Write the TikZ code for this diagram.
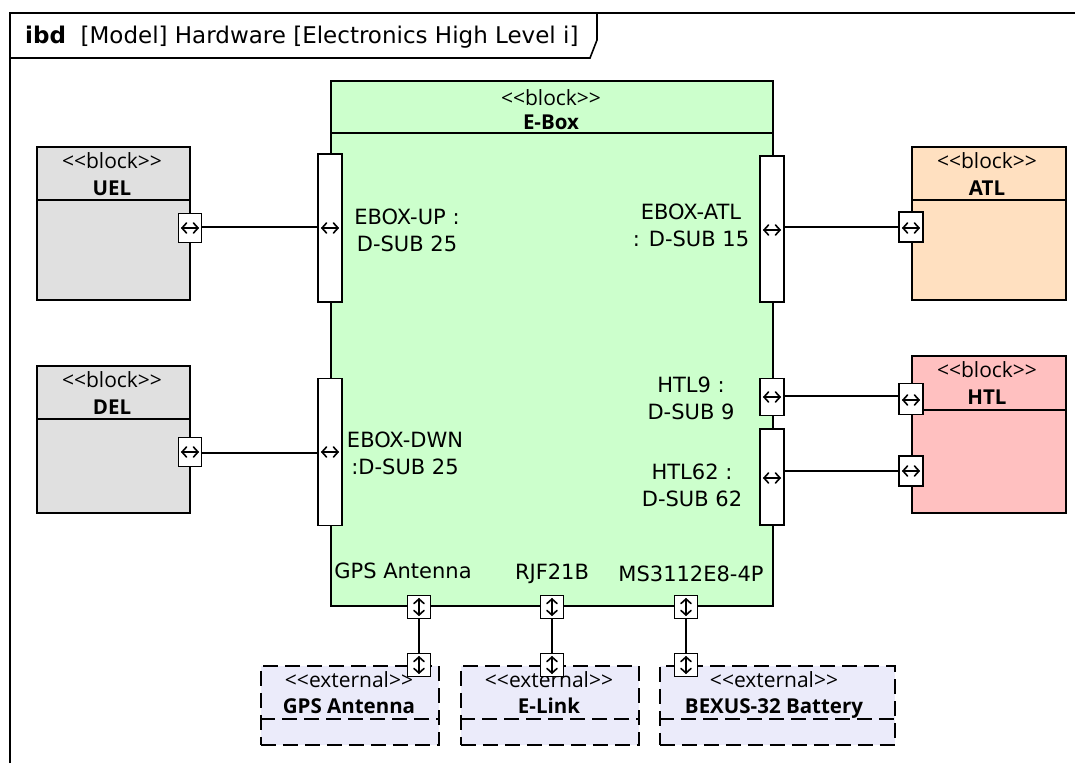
\documentclass[tikz,border=0pt]{standalone}
\usepackage{fontspec}
\setmainfont{DejaVu Sans}
\newfontfamily\osans{Open Sans}
\definecolor{eboxgreen}{HTML}{CCFFCC}
\definecolor{elgray}{HTML}{E0E0E0}
\definecolor{atlpeach}{HTML}{FFE0C0}
\definecolor{htlpink}{HTML}{FFC0C0}
\definecolor{extlav}{HTML}{EBEBFA}
\tikzset{
  blk/.style={draw, line width=1.7pt, anchor=north west, inner sep=0pt},
  sepline/.style={line width=1.7pt},
  extdash/.style={line width=1.7pt, dash pattern=on 15pt off 7pt},
  extblk/.style={draw, extdash, anchor=north west, inner sep=0pt, fill=extlav},
  portbox/.style={draw, line width=1.5pt, fill=white, inner sep=0pt},
  parrow/.style={line width=1.6pt, line cap=round, line join=miter},
  wire/.style={line width=1.6pt},
  stereo/.style={font=\osans\fontsize{21}{24}\selectfont, inner sep=0pt, anchor=base},
  bname/.style={font=\osans\bfseries\fontsize{20.5}{24}\selectfont, inner sep=0pt, anchor=base},
  plabel/.style={font=\fontsize{21}{27}\selectfont, align=center, inner sep=0pt},
}
\begin{document}
\begin{tikzpicture}[x=1pt,y=-1pt]
\useasboundingbox (0,0) rectangle (1075,763);
% frame
\draw[line width=1.6pt] (10,763) -- (10,13) -- (1075,13);
\draw[line width=1.6pt] (597,13) -- (597,40) -- (590,58) -- (10,58);
\node[anchor=west, inner sep=0pt, font=\fontsize{23}{26}\selectfont] (title) at (25,37) {\textbf{ibd}\ \ [Model] Hardware [Electronics High Level i]};

% E-Box
\node[blk, fill=eboxgreen, minimum width=442, minimum height=525] (ebox) at (330,80) {};
\draw[sepline] (330,133) -- (772,133);
\node[stereo] (eboxst) at (551,105) {<{}<block>{}>};
\node[bname] (eboxnm) at (551,129) {E-Box};

% UEL
\node[blk, fill=elgray, minimum width=153, minimum height=153] (uel) at (36,146) {};
\draw[sepline] (36,200) -- (189,200);
\node[stereo] (uelst) at (112,168) {<{}<block>{}>};
\node[bname] (uelnm) at (112,195) {UEL};

% DEL
\node[blk, fill=elgray, minimum width=153, minimum height=147] (del) at (36,365) {};
\draw[sepline] (36,419) -- (189,419);
\node[stereo] (delst) at (112,387) {<{}<block>{}>};
\node[bname] (delnm) at (112,414) {DEL};

% ATL
\node[blk, fill=atlpeach, minimum width=154, minimum height=153] (atl) at (911,146) {};
\draw[sepline] (911,200) -- (1065,200);
\node[stereo] (atlst) at (987,168) {<{}<block>{}>};
\node[bname] (atlnm) at (987,195) {ATL};

% HTL
\node[blk, fill=htlpink, minimum width=154, minimum height=157] (htl) at (911,355) {};
\draw[sepline] (911,410) -- (1065,410);
\node[stereo] (htlst) at (987,377) {<{}<block>{}>};
\node[bname] (htlnm) at (987,404) {HTL};

% externals
\node[extblk, minimum width=178, minimum height=79] (gps) at (260,665) {};
\draw[extdash] (260,719) -- (438,719);
\node[stereo] (gpsst) at (349,687) {<{}<external>{}>};
\node[bname] (gpsnm) at (349,713) {GPS Antenna};

\node[extblk, minimum width=178, minimum height=79] (elink) at (460,665) {};
\draw[extdash] (460,719) -- (638,719);
\node[stereo] (elinkst) at (549,687) {<{}<external>{}>};
\node[bname] (elinknm) at (549,713) {E-Link};

\node[extblk, minimum width=235, minimum height=79] (bat) at (659,665) {};
\draw[extdash] (659,719) -- (894,719);
\node[stereo] (batst) at (774,687) {<{}<external>{}>};
\node[bname] (batnm) at (774,713) {BEXUS-32 Battery};

% side ports
\node[portbox, minimum width=24, minimum height=148] (pup) at (330,228) {};
\node[portbox, minimum width=24, minimum height=147] (pdwn) at (330,452) {};
\node[portbox, minimum width=24, minimum height=146] (patl) at (772,229) {};
\node[portbox, minimum width=24, minimum height=37] (phtl9) at (772,397) {};
\node[portbox, minimum width=24, minimum height=96] (phtl62) at (772,477) {};

\node[portbox, minimum width=23, minimum height=29] (uelp) at (190,228) {};
\node[portbox, minimum width=23, minimum height=29] (delp) at (190,452) {};
\node[portbox, minimum width=24, minimum height=30] (atlp) at (911,227) {};
\node[portbox, minimum width=24, minimum height=31] (htlp1) at (911,399) {};
\node[portbox, minimum width=24, minimum height=30] (htlp2) at (911,471) {};

% bottom ports
\node[portbox, minimum width=23, minimum height=23] (bgps) at (419,607) {};
\node[portbox, minimum width=23, minimum height=23] (brjf) at (552,607) {};
\node[portbox, minimum width=23, minimum height=23] (bms) at (686,607) {};
\node[portbox, minimum width=23, minimum height=23] (egps) at (419,665) {};
\node[portbox, minimum width=23, minimum height=23] (elnk) at (552,665) {};
\node[portbox, minimum width=23, minimum height=23] (ebat) at (686,665) {};

% port arrows (horizontal)
\foreach \p/\yy in {pup/228, pdwn/452, patl/230, phtl9/397, phtl62/478, uelp/228, delp/452, atlp/228, htlp1/400, htlp2/471}{
  \draw[parrow] (\p.center |- 0,\yy) ++(-8,0) -- ++(16,0);
  \draw[parrow] (\p.center |- 0,\yy) ++(-3.5,-5) -- ++(-4.5,5) -- ++(4.5,5);
  \draw[parrow] (\p.center |- 0,\yy) ++(3.5,-5) -- ++(4.5,5) -- ++(-4.5,5);
}
% port arrows (vertical)
\foreach \p in {bgps, brjf, bms, egps, elnk, ebat}{
  \draw[parrow] (\p.center) ++(0,-8) -- ++(0,16);
  \draw[parrow] (\p.center) ++(-5,-3.5) -- ++(5,-4.5) -- ++(5,4.5);
  \draw[parrow] (\p.center) ++(-5,3.5) -- ++(5,4.5) -- ++(5,-4.5);
}

% connectors
\draw[wire] (uelp.east |- 0,227) -- (pup.west |- 0,227);
\draw[wire] (delp.east |- 0,453) -- (pdwn.west |- 0,453);
\draw[wire] (patl.east |- 0,227) -- (atlp.west |- 0,227);
\draw[wire] (phtl9.east |- 0,396) -- (htlp1.west |- 0,396);
\draw[wire] (phtl62.east |- 0,471) -- (htlp2.west |- 0,471);
\draw[wire] (bgps.south) -- (egps.north);
\draw[wire] (brjf.south) -- (elnk.north);
\draw[wire] (bms.south) -- (ebat.north);

% port labels
\node[plabel] (lup) at (407,230) {EBOX-UP :\\D-SUB 25};
\node[plabel] (latl) at (691,225) {EBOX-ATL\\: D-SUB 15};
\node[plabel] (lhtl9) at (691,398) {HTL9 :\\D-SUB 9};
\node[plabel] (ldwn) at (405,453) {EBOX-DWN\\:D-SUB 25};
\node[plabel] (lhtl62) at (692,485) {HTL62 :\\D-SUB 62};
\node[plabel] (lgps) at (403,571) {GPS Antenna};
\node[plabel] (lrjf) at (552,574) {RJF21B};
\node[plabel] (lms) at (691,574) {MS3112E8-4P};
\end{tikzpicture}
\end{document}
